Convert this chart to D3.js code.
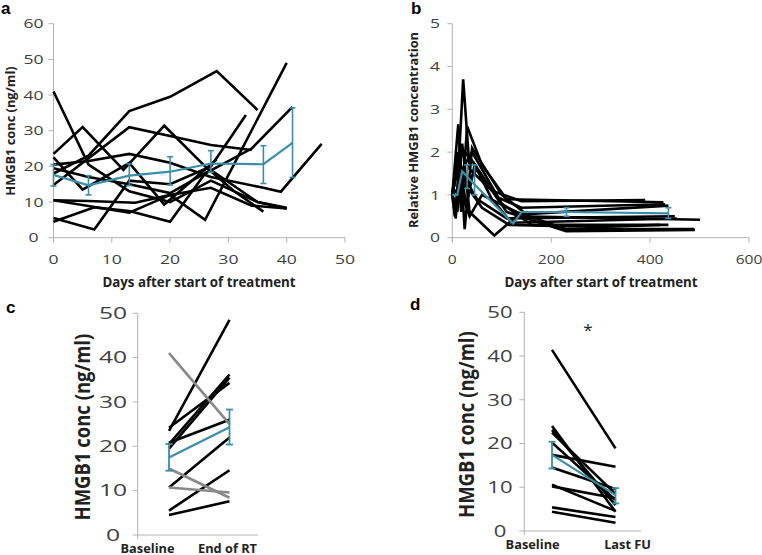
<!DOCTYPE html>
<html><head><meta charset="utf-8">
<script src="https://cdn.jsdelivr.net/npm/d3@7"></script>
<style>
body{margin:0;background:#fff;}
svg{display:block;font-family:"Open Sans","Liberation Sans",sans-serif;}
</style></head>
<body><svg id="c" width="762" height="555"></svg>
<script>
// ---------- DATA ----------
// Panel a: absolute HMGB1 (ng/ml) vs days
const aSeries = [
  [[0,18],[6,23],[13,35.5],[20,39.5],[28,46.7],[35,35.8]],
  [[0,41],[6,20.5],[13,13],[20,10],[27,16],[35,10],[40,8.2]],
  [[0,14.8],[13,31],[20,28.5],[27,26],[34,24.6]],
  [[0,23.5],[5,31],[12,19],[19,31.4],[26,20],[31,13],[36,7.3]],
  [[0,5.5],[7,2.3],[13,16],[20,15],[27,20],[33,34.4]],
  [[0,4.5],[7,8.5],[13,7.5],[20,4.5],[26,18],[34,25],[41,36.7]],
  [[0,10.5],[6,10.3],[14,9.8],[20,12],[26,5],[40,49]],
  [[0,20.5],[6,21.5],[13,23.5],[20,21],[27,17],[36,14],[39,12.9],[46,26.3]],
  [[0,22.5],[5,13.5],[13,21],[19,9.3],[28,22]],
  [[0,10.5],[13,7],[20,12],[27,14],[34,9],[40,8.2]],
  [[0,19.5],[6,17],[13,15],[20,12.5],[27,19],[35,10],[40,8.4]]
];
const aMeanDays = [0,6,13,20,27,36,41];
const aMean     = [17.6,14.7,17.4,18.5,20.8,20.6,26.6];
const aLow      = [14.5,12.0,14.6,14.8,18.4,15.2,16.9];
const aHigh     = [20.5,17.4,20.7,22.7,24.4,25.8,36.4];
const aYTicks = [0,10,20,30,40,50,60];
const aXTicks = [0,10,20,30,40,50];

// Panel b: relative HMGB1 vs days
const bSeries = [
  [[0,1],[7,0.45],[22,3.7],[35,1.6],[80,1.1],[140,0.85],[390,0.88]],
  [[0,1],[10,2.0],[18,0.6],[30,2.6],[60,1.7],[110,0.9],[427,0.83]],
  [[0,1],[12,2.65],[25,0.2],[40,2.1],[100,1.0],[150,0.55],[437,0.75]],
  [[0,1],[15,1.9],[28,0.7],[45,1.7],[80,0.9],[120,0.35],[454,0.45]],
  [[0,1],[5,0.5],[20,2.2],[35,0.6],[85,0.05],[130,0.5],[501,0.42]],
  [[0,1],[8,1.5],[25,1.2],[50,1.6],[110,0.6],[230,0.15],[491,0.18]],
  [[0,1],[10,0.6],[20,1.6],[40,2.0],[100,0.8],[160,0.3],[437,0.3]],
  [[0,1],[12,1.8],[30,1.2],[60,0.7],[115,0.3],[300,0.25],[420,0.3]],
  [[0,1],[18,2.1],[40,1.8],[90,0.95],[140,0.7],[430,0.78]],
  [[0,1],[6,0.8],[25,1.4],[50,0.9],[110,0.45],[450,0.5]],
  [[0,1],[15,1.2],[35,0.5],[60,1.0],[130,0.6],[230,0.2],[490,0.2]]
];
const bMeanDays = [0,10,20,40,123,140,231,437];
const bMean     = [1.0,1.0,1.55,1.3,0.33,0.6,0.6,0.57];
const bErrDays  = [30,45,231,437];
const bErrLow   = [1.15,1.0,0.5,0.45];
const bErrHigh  = [1.7,1.7,0.7,0.7];
const bYTicks = [0,1,2,3,4,5];
const bXTicks = [0,200,400,600];

// Panel c: Baseline vs End of RT
const cCats = ["Baseline","End of RT"];
const cBase  = [23.5,24.2,20.5,19.5,20.8,10.7,5.5,4.5,41,15,10.7];
const cEnd   = [48.5,34.3,36.2,35.5,26.0,22.0,14.6,7.6,25,8.4,9.6];
const cGray  = [false,false,false,false,false,false,false,false,true,true,true];
const cMean = [17.5,24.3], cLow = [14.5,20.4], cHigh = [20.5,28.3];

// Panel d: Baseline vs Last FU
const dCats = ["Baseline","Last FU"];
const dBase = [41.4,24.0,23.1,22.5,20.2,17.4,14.5,10.6,10.2,5.4,4.4];
const dEnd  = [18.9,4.4,5.9,8.5,7.1,14.7,9.6,4.6,7.5,3.2,1.9];
const dMean = [17.4,8.2], dLow = [14.3,6.3], dHigh = [20.4,9.8];
const cdYTicks = [0,10,20,30,40,50];

// ---------- DRAW ----------
const svg = d3.select("#c");
const TEAL = "#3a8fa8", AX = "#b3b3b3", TXT = "#404040";

function axisLines(g, x0, x1, y0, y1, yTickYs, xTickXs, tl){
  g.append("line").attr("x1",x0).attr("x2",x1).attr("y1",y0).attr("y2",y0).attr("stroke",AX).attr("stroke-width",1);
  g.append("line").attr("x1",x0).attr("x2",x0).attr("y1",y0+4).attr("y2",y1).attr("stroke",AX).attr("stroke-width",1);
  yTickYs.forEach(y=>g.append("line").attr("x1",x0-tl).attr("x2",x0).attr("y1",y).attr("y2",y).attr("stroke",AX));
  xTickXs.forEach(x=>g.append("line").attr("x1",x).attr("x2",x).attr("y1",y0).attr("y2",y0+tl).attr("stroke",AX));
}
// stretched tick label
function tickText(g, x, y, s, anchor, size, sx){
  g.append("text").attr("transform",`translate(${x},${y}) scale(${sx},1)`)
    .attr("text-anchor",anchor).attr("font-size",size).attr("fill",TXT).text(s);
}

// Panel a
{
  const x = d3.scaleLinear().domain([0,50]).range([53.5,345]);
  const y = d3.scaleLinear().domain([0,60]).range([237.7,23.7]);
  const g = svg.append("g");
  axisLines(g, x(0), x(50), y(0), y(60), aYTicks.map(y), aXTicks.map(x), 5);
  aYTicks.forEach(d=>tickText(g,33.5,y(d)+4.7,d,"middle",13,1.35));
  aXTicks.forEach(d=>tickText(g,x(d),263.5,d,"middle",13,1.35));
  const line = d3.line().x(d=>x(d[0])).y(d=>y(d[1]));
  g.selectAll(".s").data(aSeries).join("path").attr("d",line).attr("fill","none")
    .attr("stroke","#000").attr("stroke-width",2.6).attr("stroke-linejoin","miter");
  const m = aMeanDays.map((d,i)=>[d,aMean[i]]);
  g.append("path").attr("d",line(m)).attr("fill","none").attr("stroke",TEAL).attr("stroke-width",2.2);
  aMeanDays.forEach((d,i)=>{
    g.append("line").attr("x1",x(d)).attr("x2",x(d)).attr("y1",y(aLow[i])).attr("y2",y(aHigh[i])).attr("stroke",TEAL).attr("stroke-width",1.6);
    [aLow[i],aHigh[i]].forEach(v=>g.append("line").attr("x1",x(d)-3).attr("x2",x(d)+3).attr("y1",y(v)).attr("y2",y(v)).attr("stroke",TEAL).attr("stroke-width",1.6));
  });
  g.append("text").attr("transform","translate(15,131) rotate(-90)").attr("text-anchor","middle")
    .attr("font-size",12.8).attr("font-weight","bold").attr("fill","#222").text("HMGB1 conc (ng/ml)");
  g.append("text").attr("x",199).attr("y",287).attr("text-anchor","middle").attr("font-size",13.3)
    .attr("font-weight","bold").attr("fill","#222").text("Days after start of treatment");
  g.append("text").attr("x",1).attr("y",14).attr("font-size",17).attr("font-weight","bold")
    .attr("font-family","Liberation Sans, Arial, sans-serif").text("a");
}

// Panel b
{
  const x = d3.scaleLinear().domain([0,600]).range([452.3,749]);
  const y = d3.scaleLinear().domain([0,5]).range([237.7,23.7]);
  const g = svg.append("g");
  axisLines(g, x(0), x(600), y(0), y(5), bYTicks.map(y), bXTicks.map(x), 5);
  bYTicks.forEach(d=>tickText(g,435,y(d)+4.7,d,"middle",13,1.35));
  bXTicks.forEach(d=>tickText(g,x(d),263.5,d,"middle",13,1.2));
  const line = d3.line().x(d=>x(d[0])).y(d=>y(d[1]));
  g.selectAll(".s").data(bSeries).join("path").attr("d",line).attr("fill","none")
    .attr("stroke","#000").attr("stroke-width",2.6);
  const m = bMeanDays.map((d,i)=>[d,bMean[i]]);
  g.append("path").attr("d",line(m)).attr("fill","none").attr("stroke",TEAL).attr("stroke-width",2.2);
  bErrDays.forEach((d,i)=>{
    g.append("line").attr("x1",x(d)).attr("x2",x(d)).attr("y1",y(bErrLow[i])).attr("y2",y(bErrHigh[i])).attr("stroke",TEAL).attr("stroke-width",1.6);
    [bErrLow[i],bErrHigh[i]].forEach(v=>g.append("line").attr("x1",x(d)-3).attr("x2",x(d)+3).attr("y1",y(v)).attr("y2",y(v)).attr("stroke",TEAL).attr("stroke-width",1.6));
  });
  g.append("text").attr("transform","translate(418,130) rotate(-90)").attr("text-anchor","middle")
    .attr("font-size",12.8).attr("font-weight","bold").attr("fill","#222").text("Relative HMGB1 concentration");
  g.append("text").attr("x",601).attr("y",287).attr("text-anchor","middle").attr("font-size",13.3)
    .attr("font-weight","bold").attr("fill","#222").text("Days after start of treatment");
  g.append("text").attr("x",411).attr("y",14).attr("font-size",17).attr("font-weight","bold")
    .attr("font-family","Liberation Sans, Arial, sans-serif").text("b");
}

// Panels c, d
function pairPanel(o){
  const y = d3.scaleLinear().domain([0,50]).range([o.y0,o.y50]);
  const xp = d3.scalePoint().domain(o.cats).range(o.lineX);
  const xl = d3.scalePoint().domain(o.cats).range(o.labelX);
  const g = svg.append("g");
  axisLines(g, o.axX, o.axEnd, y(0), y(50), cdYTicks.map(y), [], 5);
  cdYTicks.forEach(d=>tickText(g,o.tickX,y(d)+5.8,d,"middle",17,o.sx));
  g.selectAll(".xt").data(o.cats).join("text").attr("x",d=>xl(d)).attr("y",o.y0+17.5)
    .attr("text-anchor","middle").attr("font-size",12.8).attr("font-weight","bold").attr("fill","#222").text(d=>d);
  o.base.forEach((b,i)=>{
    g.append("line").attr("x1",xp(o.cats[0])).attr("x2",xp(o.cats[1])).attr("y1",y(b)).attr("y2",y(o.end[i]))
      .attr("stroke",o.gray && o.gray[i] ? "#888888" : "#000").attr("stroke-width",2.6);
  });
  g.append("line").attr("x1",xp(o.cats[0])).attr("x2",xp(o.cats[1])).attr("y1",y(o.mean[0])).attr("y2",y(o.mean[1]))
    .attr("stroke",TEAL).attr("stroke-width",2.2);
  o.cats.forEach((c,i)=>{
    const xx = xp(c);
    g.append("line").attr("x1",xx).attr("x2",xx).attr("y1",y(o.low[i])).attr("y2",y(o.high[i])).attr("stroke",TEAL).attr("stroke-width",1.8);
    [o.low[i],o.high[i]].forEach(v=>g.append("line").attr("x1",xx-3.5).attr("x2",xx+3.5).attr("y1",y(v)).attr("y2",y(v)).attr("stroke",TEAL).attr("stroke-width",1.8));
  });
  g.append("text").attr("transform",`translate(${o.titleX},${(y(0)+y(50))/2+3}) rotate(-90) scale(1,1.2)`).attr("text-anchor","middle")
    .attr("font-size",18.5).attr("font-weight","bold").attr("fill","#222").text("HMGB1 conc (ng/ml)");
  g.append("text").attr("x",o.letterX).attr("y",o.letterY).attr("font-size",17).attr("font-weight","bold")
    .attr("font-family","Liberation Sans, Arial, sans-serif").text(o.letter);
  return {g,y};
}
pairPanel({cats:cCats, base:cBase, end:cEnd, gray:cGray, mean:cMean, low:cLow, high:cHigh,
  y0:535, y50:313.3, axX:137.7, axEnd:258, lineX:[169,229.5], labelX:[147.5,227.5],
  tickX:113, titleX:90, sx:1.45, letter:"c", letterX:6, letterY:313});
const dp = pairPanel({cats:dCats, base:dBase, end:dEnd, gray:null, mean:dMean, low:dLow, high:dHigh,
  y0:531, y50:312.3, axX:524.3, axEnd:641, lineX:[552,615.5], labelX:[532.6,627.6],
  tickX:500, titleX:474, sx:1.3, letter:"d", letterX:410, letterY:310});
dp.g.append("text").attr("x",588).attr("y",dp.y(44.5)).attr("text-anchor","middle").attr("font-size",17)
  .attr("fill","#222").text("*");
</script></body></html>
